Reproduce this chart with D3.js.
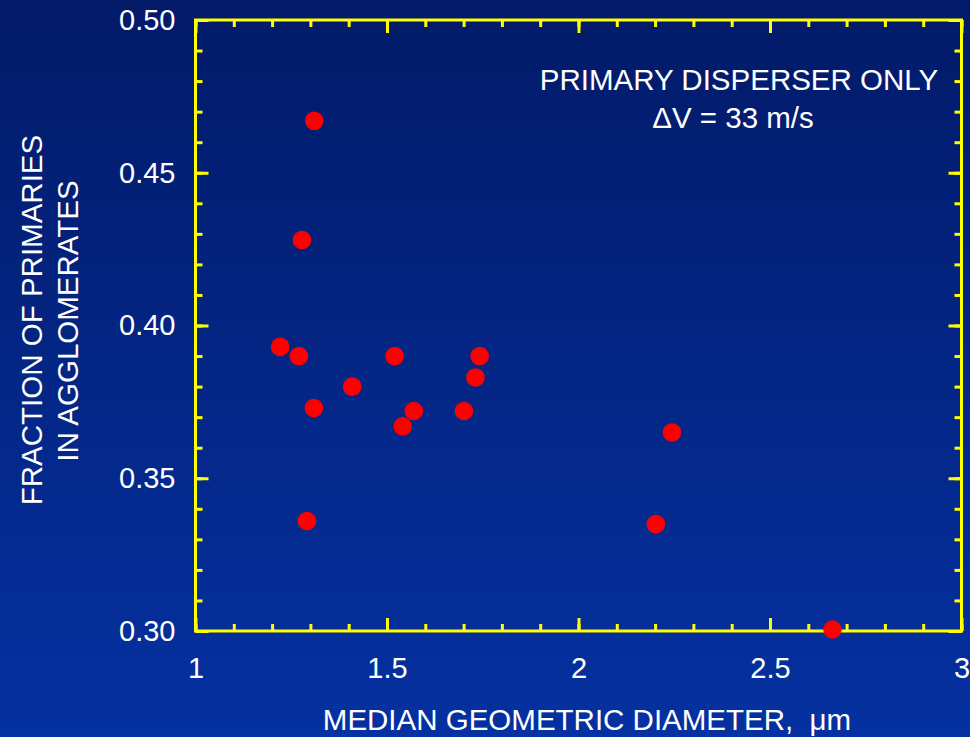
<!DOCTYPE html>
<html>
<head>
<meta charset="utf-8">
<script src="https://cdn.jsdelivr.net/npm/d3@7"></script>
<style>
  html, body { margin: 0; padding: 0; background: #021a68; }
  svg { display: block; }
  text { font-family: "Liberation Sans", Arial, sans-serif; fill: #ffffff; }
</style>
</head>
<body>
<script>
// ---- data ----
const diameters = [1.310, 1.278, 1.221, 1.270, 1.520, 1.742, 1.731, 1.409, 1.309, 1.570, 1.701, 1.541, 1.291, 2.244, 2.202, 2.663];
const fractions = [0.467, 0.428, 0.393, 0.390, 0.390, 0.390, 0.383, 0.380, 0.373, 0.372, 0.372, 0.367, 0.336, 0.365, 0.335, 0.3005];
const xMajorTicks = [1, 1.5, 2, 2.5, 3];
const xTickLabels = ["1", "1.5", "2", "2.5", "3"];
const yMajorTicks = [0.30, 0.35, 0.40, 0.45, 0.50];
const yTickLabels = ["0.30", "0.35", "0.40", "0.45", "0.50"];
const xMinorTicks = d3.range(10, 31).map(d => d / 10);
const yMinorTicks = d3.range(30, 51).map(d => d / 100);
const xTitle = "MEDIAN GEOMETRIC DIAMETER,  \u03BCm";
const yTitleLines = ["FRACTION OF PRIMARIES", "IN AGGLOMERATES"];
const noteLines = ["PRIMARY DISPERSER ONLY", "\u0394V = 33 m/s"];

// ---- layout ----
const W = 970, H = 737;
const L = 195.5, R = 961.5, T = 20, B = 631;
const axisColor = "#ffff00";
const fontSize = 29;
const titleSize = 29.5;

const svg = d3.select("body").append("svg").attr("width", W).attr("height", H);

const defs = svg.append("defs");
const grad = defs.append("linearGradient").attr("id", "bg").attr("x1", 0).attr("y1", 0).attr("x2", 0).attr("y2", 1);
grad.append("stop").attr("offset", "0%").attr("stop-color", "#021a68");
grad.append("stop").attr("offset", "100%").attr("stop-color", "#0531a1");
svg.append("rect").attr("width", W).attr("height", H).attr("fill", "url(#bg)");

const x = d3.scaleLinear().domain([1, 3]).range([L, R]);
const y = d3.scaleLinear().domain([0.30, 0.50]).range([B, T]);

function styleAxis(g) {
  g.selectAll("line").attr("stroke", axisColor).attr("stroke-width", 3);
  g.selectAll("path").remove();
  g.selectAll("text").attr("font-size", fontSize).attr("fill", "#fff")
    .attr("font-family", "Liberation Sans, Arial, sans-serif");
}

const minorLen = 7, majorLen = 13;

// minor ticks on all four sides
svg.append("g").attr("transform", `translate(0,${B})`)
  .call(d3.axisBottom(x).tickValues(xMinorTicks).tickSize(-minorLen).tickFormat(""))
  .call(styleAxis);
svg.append("g").attr("transform", `translate(0,${T})`)
  .call(d3.axisTop(x).tickValues(xMinorTicks).tickSize(-minorLen).tickFormat(""))
  .call(styleAxis);
svg.append("g").attr("transform", `translate(${L},0)`)
  .call(d3.axisLeft(y).tickValues(yMinorTicks).tickSize(-minorLen).tickFormat(""))
  .call(styleAxis);
svg.append("g").attr("transform", `translate(${R},0)`)
  .call(d3.axisRight(y).tickValues(yMinorTicks).tickSize(-minorLen).tickFormat(""))
  .call(styleAxis);

// major ticks + labels
svg.append("g").attr("transform", `translate(0,${B})`)
  .call(d3.axisBottom(x).tickValues(xMajorTicks).tickSize(-majorLen).tickPadding(26)
    .tickFormat((d, i) => xTickLabels[i]))
  .call(styleAxis);
svg.append("g").attr("transform", `translate(0,${T})`)
  .call(d3.axisTop(x).tickValues(xMajorTicks).tickSize(-majorLen).tickFormat(""))
  .call(styleAxis);
svg.append("g").attr("transform", `translate(${L},0)`)
  .call(d3.axisLeft(y).tickValues(yMajorTicks).tickSize(-majorLen).tickPadding(20)
    .tickFormat((d, i) => yTickLabels[i]))
  .call(styleAxis);
svg.append("g").attr("transform", `translate(${R},0)`)
  .call(d3.axisRight(y).tickValues(yMajorTicks).tickSize(-majorLen).tickFormat(""))
  .call(styleAxis);

// frame
svg.append("rect")
  .attr("x", x(1)).attr("y", y(0.50))
  .attr("width", x(3) - x(1)).attr("height", y(0.30) - y(0.50))
  .attr("fill", "none").attr("stroke", axisColor).attr("stroke-width", 3);

// points
svg.append("g").selectAll("circle")
  .data(diameters.map((d, i) => [d, fractions[i]]))
  .join("circle")
  .attr("cx", d => x(d[0]))
  .attr("cy", d => y(d[1]))
  .attr("r", 9.3)
  .attr("fill", "#ff0000");

// annotation
svg.append("text").attr("x", 739).attr("y", 90).attr("text-anchor", "middle")
  .attr("font-size", titleSize).text(noteLines[0]);
svg.append("text").attr("x", 733).attr("y", 128).attr("text-anchor", "middle")
  .attr("font-size", titleSize).text(noteLines[1]);

// axis titles
svg.append("text").attr("x", 587).attr("y", 730).attr("text-anchor", "middle")
  .attr("font-size", titleSize).attr("xml:space", "preserve").style("white-space", "pre").text(xTitle);

const yt = svg.append("text").attr("transform", "rotate(-90)").attr("text-anchor", "middle").attr("font-size", titleSize);
yt.append("tspan").attr("x", -320).attr("y", 42).text(yTitleLines[0]);
yt.append("tspan").attr("x", -321).attr("y", 78).text(yTitleLines[1]);
</script>
</body>
</html>
